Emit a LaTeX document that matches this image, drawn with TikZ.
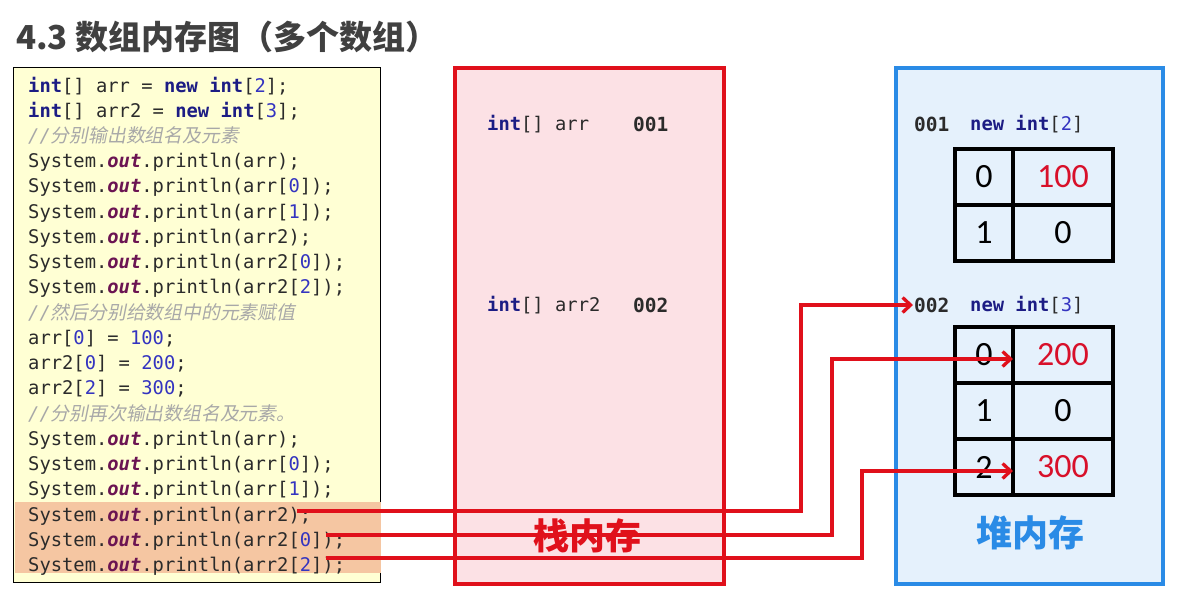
\documentclass[tikz,border=0pt]{standalone}
\usepackage{fontspec}
\setmonofont{DejaVu Sans Mono}
\newfontfamily\cjk{Noto Sans CJK SC}
\newfontfamily\cjkit{Noto Sans CJK SC}[FakeSlant=0.2]
\newfontfamily\cellfont{Carlito}
\usetikzlibrary{arrows.meta,positioning}

\definecolor{TitleGray}{HTML}{404040}
\definecolor{CodeBg}{HTML}{FFFFD4}
\definecolor{CodeBand}{HTML}{F5C6A2}
\definecolor{CodeInk}{HTML}{2B2B2B}
\definecolor{KwNavy}{HTML}{1C1C84}
\definecolor{NumBlue}{HTML}{3434C0}
\definecolor{FieldPurple}{HTML}{6B1452}
\definecolor{CommentGray}{HTML}{A8A8A8}
\definecolor{StackBg}{HTML}{FCE1E5}
\definecolor{StackRed}{HTML}{E0101B}
\definecolor{HeapBg}{HTML}{E5F1FC}
\definecolor{HeapBlue}{HTML}{2A8BE6}
\definecolor{ValRed}{HTML}{D8102A}

\newcommand\kw[1]{{\bfseries\color{KwNavy}#1}}
\newcommand\jnum[1]{{\color{NumBlue}#1}}
\newcommand\fld[1]{{\bfseries\itshape\color{FieldPurple}#1}}
\newcommand\cmt[1]{{\itshape\color{CommentGray}//\cjkit #1}}

\tikzset{
    % page title
    title/.style={
        anchor=west,
        inner sep=0pt,
        text=TitleGray,
        font=\cjk\bfseries\fontsize{33}{33}\selectfont
    },
    % the three panels
    codebox/.style={
        rectangle,
        draw=black,
        line width=1.5pt,
        fill=CodeBg,
        anchor=north west,
        outer sep=0pt
    },
    band/.style={
        rectangle,
        draw=none,
        fill=CodeBand,
        anchor=north west,
        inner sep=0pt,
        outer sep=0pt
    },
    stackbox/.style={
        codebox,
        draw=StackRed,
        line width=4pt,
        fill=StackBg
    },
    heapbox/.style={
        codebox,
        draw=HeapBlue,
        line width=4pt,
        fill=HeapBg
    },
    codeline/.style={
        anchor=west,
        inner sep=0pt,
        text height=16.42pt,
        text depth=8.42pt,
        text=CodeInk,
        font=\ttfamily\fontsize{18.8}{22}\selectfont
    },
    memtext/.style={
        anchor=west,
        inner sep=1pt,
        text=CodeInk,
        font=\ttfamily\fontsize{18.8}{22}\selectfont
    },
    memaddr/.style={
        memtext,
        font=\ttfamily\bfseries\fontsize{19.5}{22}\selectfont
    },
    idxcell/.style={
        rectangle,
        draw=black,
        line width=4pt,
        inner sep=0pt,
        outer sep=0pt,
        minimum width=58,
        minimum height=56,
        text=black,
        font=\cellfont\fontsize{34}{34}\selectfont
    },
    valcell/.style={
        idxcell,
        minimum width=100
    },
    memlabel/.style={
        inner sep=0pt,
        font=\cjk\bfseries\fontsize{36}{36}\selectfont
    },
    ptr arrow/.style={
        draw=StackRed,
        line width=3.3pt,
        -{Straight Barb[length=8pt,width=15pt]}
    }
}

\begin{document}
\begin{tikzpicture}[x=1pt, y=-1pt, node distance=0pt]
    \useasboundingbox (0,0) rectangle (1190,594);
    \fill[white] (0,0) rectangle (1190,594);

    \node[title] (title) at (16,37) {4.3 数组内存图（多个数组）};

    % Code panel
    \node[codebox, minimum width=366.6, minimum height=515] (code) at (13.7,67.7) {};
    \node[band, minimum width=366, minimum height=71] (hl) at (14.5,502) {};

    \node[codeline] (l1) at (28,88) {\kw{int}[] arr = \kw{new} \kw{int}[\jnum{2}];};
    \node[codeline, below right=of l1.south west] (l2) {\kw{int}[] arr2 = \kw{new} \kw{int}[\jnum{3}];};
    \node[codeline, below right=of l2.south west] (l3) {\cmt{分别输出数组名及元素}};
    \node[codeline, below right=of l3.south west] (l4) {System.\fld{out}.println(arr);};
    \node[codeline, below right=of l4.south west] (l5) {System.\fld{out}.println(arr[\jnum{0}]);};
    \node[codeline, below right=of l5.south west] (l6) {System.\fld{out}.println(arr[\jnum{1}]);};
    \node[codeline, below right=of l6.south west] (l7) {System.\fld{out}.println(arr2);};
    \node[codeline, below right=of l7.south west] (l8) {System.\fld{out}.println(arr2[\jnum{0}]);};
    \node[codeline, below right=of l8.south west] (l9) {System.\fld{out}.println(arr2[\jnum{2}]);};
    \node[codeline, below right=of l9.south west] (l10) {\cmt{然后分别给数组中的元素赋值}};
    \node[codeline, below right=of l10.south west] (l11) {arr[\jnum{0}] = \jnum{100};};
    \node[codeline, below right=of l11.south west] (l12) {arr2[\jnum{0}] = \jnum{200};};
    \node[codeline, below right=of l12.south west] (l13) {arr2[\jnum{2}] = \jnum{300};};
    \node[codeline, below right=of l13.south west] (l14) {\cmt{分别再次输出数组名及元素。}};
    \node[codeline, below right=of l14.south west] (l15) {System.\fld{out}.println(arr);};
    \node[codeline, below right=of l15.south west] (l16) {System.\fld{out}.println(arr[\jnum{0}]);};
    \node[codeline, below right=of l16.south west] (l17) {System.\fld{out}.println(arr[\jnum{1}]);};
    \node[codeline, below right=of l17.south west] (l18) {System.\fld{out}.println(arr2);};
    \node[codeline, below right=of l18.south west] (l19) {System.\fld{out}.println(arr2[\jnum{0}]);};
    \node[codeline, below right=of l19.south west] (l20) {System.\fld{out}.println(arr2[\jnum{2}]);};

    % Stack memory
    \node[stackbox, minimum width=269, minimum height=516] (stack) at (455,68) {};
    \node[memtext] (svar1) at (486,124) {\kw{int}[] arr};
    \node[memaddr] (saddr1) at (632,124) {001};
    \node[memtext] (svar2) at (486,305) {\kw{int}[] arr2};
    \node[memaddr] (saddr2) at (632,305) {002};
    \node[memlabel, text=StackRed] (stackname) at (587,536) {栈内存};

    % Heap memory
    \node[heapbox, minimum width=267, minimum height=516] (heap) at (896,68) {};
    \node[memaddr] (haddr1) at (913,124) {001};
    \node[memtext] (hnew1) at (969,124) {\kw{new} \kw{int}[\jnum{2}]};
    \node[idxcell, anchor=north west] (a0i) at (955,149) {0};
    \node[valcell, right=of a0i] (a0v) {\textcolor{ValRed}{100}};
    \node[idxcell, below=of a0i] (a1i) {1};
    \node[valcell, right=of a1i] (a1v) {0};

    \node[memaddr] (haddr2) at (913,305) {002};
    \node[memtext] (hnew2) at (969,305) {\kw{new} \kw{int}[\jnum{3}]};
    \node[idxcell, anchor=north west] (b0i) at (955,327) {0};
    \node[valcell, right=of b0i] (b0v) {\textcolor{ValRed}{200}};
    \node[idxcell, below=of b0i] (b1i) {1};
    \node[valcell, right=of b1i] (b1v) {0};
    \node[idxcell, below=of b1i] (b2i) {2};
    \node[valcell, right=of b2i] (b2v) {\textcolor{ValRed}{300}};
    \node[memlabel, text=HeapBlue] (heapname) at (1030,533) {堆内存};

    % Arrows
    \coordinate (src1) at (297,511);
    \coordinate (src2) at (326,535);
    \coordinate (src3) at (326,558);
    \coordinate (col1) at (801,0);
    \coordinate (col2) at (832,0);
    \coordinate (col3) at (862,0);
    \draw[ptr arrow] (src1) -- (src1 -| col1) |- (haddr2.west);
    \draw[ptr arrow] (src2) -- (src2 -| col2) |- ([yshift=-4pt]b0v.west);
    \draw[ptr arrow] (src3) -- (src3 -| col3) |- ([yshift=-4pt]b2v.west);
\end{tikzpicture}
\end{document}
